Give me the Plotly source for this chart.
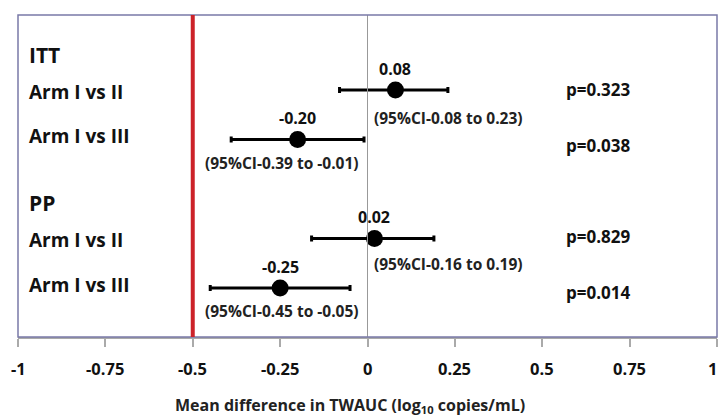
import plotly.graph_objects as go

groups = ["ITT", "PP"]
comparisons = ["Arm I vs II", "Arm I vs III"]
means = [[0.08, -0.20], [0.02, -0.25]]
ci_low = [[-0.08, -0.39], [-0.16, -0.45]]
ci_high = [[0.23, -0.01], [0.19, -0.05]]
p_values = [["0.323", "0.038"], ["0.829", "0.014"]]
tick_vals = [-1, -0.75, -0.5, -0.25, 0, 0.25, 0.5, 0.75, 1]
tick_text = ["-1", "-0.75", "-0.5", "-0.25", "0", "0.25", "0.5", "0.75", "1"]

FONT = "Open Sans"
fig = go.Figure()

xs, ys, plus, minus = [], [], [], []
ann = []
ci_shift = [[-28, -24], [-26, -23]]
p_shift = [[0, -6], [2, -5]]
for gi, g in enumerate(groups):
    base = gi * 3
    ann.append(dict(x=0.013, xref="paper", y=base + 0.29, yref="y", text="<b>%s</b>" % g,
                    showarrow=False, xanchor="left", yanchor="middle",
                    font=dict(family=FONT, size=21, color="#111")))
    for j, c in enumerate(comparisons):
        pos = base + j + 1
        m, lo, hi = means[gi][j], ci_low[gi][j], ci_high[gi][j]
        xs.append(m); ys.append(pos); plus.append(hi - m); minus.append(m - lo)
        ann.append(dict(x=0.013, xref="paper", y=pos, yref="y", text="<b>%s</b>" % c,
                        yshift=(-2 if j == 0 else 3), yanchor="middle",
                        showarrow=False, xanchor="left", font=dict(family=FONT, size=19, color="#111")))
        ann.append(dict(x=m, y=pos, text="<b>%.2f</b>" % m, yshift=21, showarrow=False,
                        yanchor="middle", xanchor="center",
                        font=dict(family=FONT, size=16, color="#111")))
        ci_x = 0.013 if m > -0.1 else -0.47
        ann.append(dict(x=ci_x, y=pos, text="<b>(95%%CI%.2f to %.2f)</b>" % (lo, hi),
                        yshift=ci_shift[gi][j], yanchor="middle",
                        showarrow=False, xanchor="left", font=dict(family=FONT, size=15.5, color="#222")))
        ann.append(dict(x=0.562, y=pos, text="<b>p=%s</b>" % p_values[gi][j],
                        yshift=p_shift[gi][j], yanchor="middle",
                        showarrow=False, xanchor="left", font=dict(family=FONT, size=17, color="#111")))

fig.add_trace(go.Scatter(
    x=xs, y=ys, mode="markers",
    marker=dict(size=17, color="black"),
    error_x=dict(type="data", symmetric=False, array=plus, arrayminus=minus,
                 color="black", thickness=3, width=3),
    showlegend=False, hoverinfo="x"))

# tick labels drawn at the axis tick positions (the last one is kept inside the page edge)
for tv, tt in zip(tick_vals, tick_text):
    last = tv == tick_vals[-1]
    ann.append(dict(x=tv, xref="x", y=-31 / 322, yref="paper", text="<b>%s</b>" % tt,
                    showarrow=False, xanchor=("right" if last else "center"), yanchor="middle",
                    xshift=(2 if last else 0),
                    font=dict(family=FONT, size=16.5, color="#111")))

ann.append(dict(x=(350 - 18) / 699, xref="paper", y=-69 / 322, yref="paper",
                text="<b>Mean difference in TWAUC (log<sub>10</sub> copies/mL)</b>",
                showarrow=False, xanchor="center", yanchor="middle",
                font=dict(family=FONT, size=16, color="#222")))

shapes = [
    dict(type="line", x0=0, x1=0, y0=0, y1=1, yref="paper", line=dict(color="#999", width=1)),
    dict(type="rect", x0=0, x1=1, xref="paper", y0=0, y1=1, yref="paper",
         line=dict(color="#7a7aa8", width=1.5)),
    dict(type="line", x0=-0.5, x1=-0.5, y0=0, y1=1, yref="paper", line=dict(color="#cc2229", width=4)),
]

fig.update_layout(
    width=720, height=418,
    margin=dict(l=18, r=3, t=15, b=81),
    paper_bgcolor="white", plot_bgcolor="white",
    annotations=ann, shapes=shapes,
    xaxis=dict(range=[-1, 1], tickvals=tick_vals, showticklabels=False, showgrid=False, zeroline=False,
               ticks="outside", ticklen=8, tickcolor="#aaa", tickwidth=1.5,
               showline=True, linecolor="#aaa", linewidth=1.5, automargin=False),
    yaxis=dict(range=[5.99, -0.515], showgrid=False, zeroline=False, showticklabels=False,
               showline=False),
)

fig.write_html("out.html", config={"displayModeBar": False},
               post_script="document.body.style.margin='0';document.body.style.overflow='hidden';")
